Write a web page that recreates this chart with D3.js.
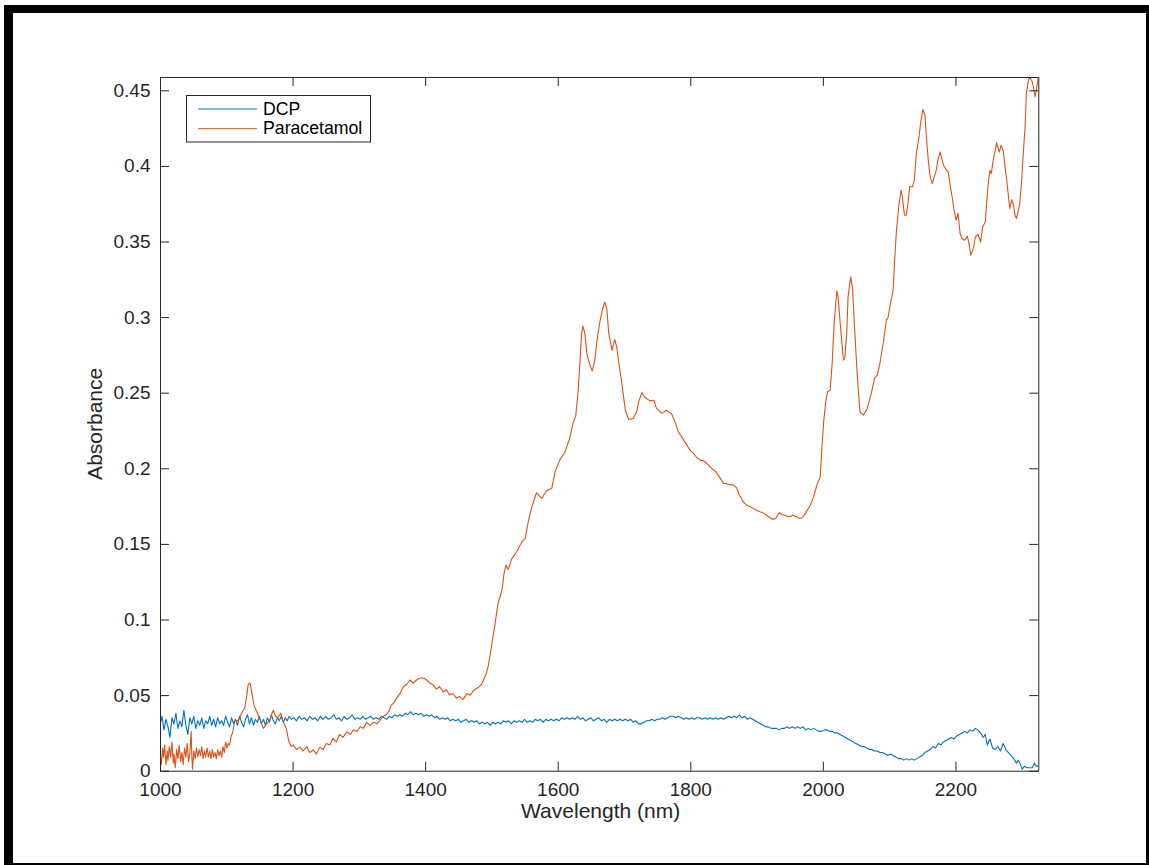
<!DOCTYPE html>
<html>
<head>
<meta charset="utf-8">
<script src="https://cdn.jsdelivr.net/npm/d3@7"></script>
<style>
  html, body { margin: 0; padding: 0; background: #fff; }
  svg { display: block; font-family: "Liberation Sans", Arial, Helvetica, sans-serif; }
</style>
</head>
<body>
<svg id="chart" width="1149" height="865"></svg>
<script>
// NIR absorbance spectra: [wavelength (nm), absorbance]
const dcp = [
  [1000,.030],[1003,.036],[1006,.027],[1009,.034],[1012,.029],[1015,.022],[1018,.035],[1021,.031],[1024,.038],[1027,.028],
  [1030,.033],[1033,.029],[1036,.040],[1039,.030],[1042,.024],[1045,.035],[1048,.031],[1051,.036],[1054,.028],[1057,.033],
  [1060,.030],[1063,.035],[1066,.028],[1069,.033],[1072,.031],[1075,.036],[1078,.030],[1081,.034],[1084,.029],[1087,.035],
  [1090,.031],[1093,.033],[1096,.030],[1099,.036],[1102,.032],[1105,.029],[1108,.035],[1111,.031],[1114,.034],[1117,.030],
  [1120,.036],[1123,.032],[1126,.029],[1129,.034],[1132,.037],[1135,.031],[1138,.035],[1141,.030],[1144,.034],[1147,.032],
  [1150,.036],[1153,.031],[1156,.034],[1159,.030],[1162,.035],[1165,.032],[1168,.037],[1171,.033],[1174,.031],[1177,.035],
  [1180,.033],[1183,.036],[1186,.032],[1189,.035],[1192,.033],[1195,.036],[1198,.034],[1202,.035],[1206,.033],[1210,.036],
  [1214,.034],[1218,.035],[1222,.033],[1226,.036],[1230,.034],[1234,.035],[1238,.033],[1242,.036],[1246,.034],[1250,.036],
  [1254,.034],[1258,.035],[1262,.037],[1266,.034],[1270,.035],[1274,.033],[1278,.036],[1282,.034],[1286,.035],[1290,.037],
  [1294,.034],[1298,.035],[1302,.034],[1306,.036],[1310,.034],[1314,.035],[1318,.036],[1322,.034],[1326,.035],[1330,.034],
  [1334,.036],[1338,.035],[1342,.034],[1346,.036],[1350,.035],[1354,.037],[1358,.036],[1362,.037],[1366,.036],[1370,.038],
  [1374,.037],[1378,.039],[1382,.037],[1386,.038],[1390,.037],[1394,.038],[1398,.036],[1402,.037],[1406,.036],[1410,.037],
  [1414,.035],[1418,.036],[1422,.034],[1426,.035],[1430,.034],[1434,.035],[1438,.033],[1442,.034],[1446,.033],[1450,.034],
  [1454,.032],[1458,.033],[1462,.034],[1466,.032],[1470,.033],[1474,.032],[1478,.033],[1482,.031],[1486,.032],[1490,.031],
  [1494,.032],[1498,.030],[1502,.032],[1506,.031],[1510,.032],[1514,.031],[1518,.033],[1522,.032],[1526,.033],[1530,.031],
  [1534,.033],[1538,.032],[1542,.033],[1546,.032],[1550,.034],[1554,.032],[1558,.033],[1562,.032],[1566,.034],[1570,.033],
  [1574,.034],[1578,.032],[1582,.034],[1586,.033],[1590,.034],[1594,.033],[1598,.034],[1602,.033],[1606,.035],[1610,.034],
  [1614,.035],[1618,.034],[1622,.035],[1626,.034],[1630,.036],[1634,.034],[1638,.035],[1642,.033],[1646,.034],[1650,.035],
  [1654,.033],[1658,.034],[1662,.035],[1666,.033],[1670,.034],[1674,.032],[1678,.034],[1682,.033],[1686,.034],[1690,.033],
  [1694,.034],[1698,.033],[1702,.034],[1706,.033],[1710,.034],[1714,.032],[1718,.033],[1722,.031],[1726,.031],[1730,.032],
  [1734,.033],[1738,.033],[1742,.034],[1746,.033],[1750,.034],[1754,.034],[1758,.035],[1762,.034],[1766,.035],[1770,.036],
  [1774,.036],[1778,.035],[1782,.036],[1786,.035],[1790,.034],[1794,.035],[1798,.034],[1802,.035],[1806,.034],[1810,.035],
  [1814,.035],[1818,.034],[1822,.035],[1826,.034],[1830,.035],[1834,.034],[1838,.035],[1842,.034],[1846,.035],[1850,.034],
  [1854,.035],[1858,.036],[1862,.035],[1866,.036],[1870,.035],[1874,.037],[1878,.035],[1882,.036],[1886,.034],[1890,.035],
  [1894,.034],[1898,.033],[1902,.032],[1906,.031],[1910,.030],[1914,.029],[1918,.029],[1922,.028],[1926,.028],[1930,.028],
  [1934,.027],[1938,.028],[1942,.028],[1946,.029],[1950,.028],[1954,.029],[1958,.028],[1962,.029],[1966,.028],[1970,.029],
  [1974,.027],[1978,.028],[1982,.027],[1986,.028],[1990,.027],[1994,.026],[1998,.026],[2002,.027],[2006,.027],[2010,.026],
  [2014,.026],[2018,.025],[2022,.025],[2026,.024],[2030,.023],[2034,.022],[2038,.021],[2042,.020],[2046,.019],[2050,.018],
  [2054,.017],[2058,.016],[2062,.016],[2066,.015],[2070,.014],[2074,.014],[2078,.013],[2082,.013],[2086,.012],[2090,.012],
  [2094,.011],[2098,.010],[2102,.011],[2106,.010],[2110,.009],[2114,.008],[2118,.008],[2122,.007],[2126,.008],[2130,.007],
  [2134,.008],[2138,.007],[2142,.008],[2146,.009],[2150,.010],[2154,.012],[2158,.013],[2162,.014],[2166,.016],[2170,.015],
  [2174,.018],[2178,.017],[2182,.019],[2186,.020],[2190,.021],[2194,.022],[2198,.021],[2202,.023],[2206,.024],[2210,.025],
  [2214,.026],[2218,.025],[2222,.027],[2226,.026],[2230,.028],[2234,.027],[2238,.025],[2242,.022],[2245,.024],[2248,.017],
  [2252,.021],[2256,.015],[2260,.014],[2264,.016],[2268,.013],[2272,.018],[2276,.014],[2280,.012],[2284,.010],[2288,.008],
  [2292,.005],[2295,.007],[2298,.004],[2301,.001],[2304,.003],[2308,.002],[2312,.002],[2316,.002],[2319,.005],[2322,.003],
  [2325,.003]
];

const paracetamol = [
  [1000,.012],[1002,.004],[1004,.015],[1005,.009],[1007,.017],[1009,.004],[1011,.013],[1012,.007],[1014,.016],[1016,.009],
  [1018,.019],[1020,.005],[1021,.011],[1023,.002],[1025,.014],[1027,.008],[1029,.017],[1031,.006],[1033,.012],[1035,.004],
  [1037,.015],[1039,.009],[1041,.018],[1043,.006],[1045,.012],[1047,.026],[1048,.010],[1049,.001],[1051,.013],[1053,.008],
  [1055,.015],[1057,.009],[1059,.014],[1061,.010],[1063,.016],[1065,.008],[1067,.013],[1069,.009],[1071,.015],[1073,.009],
  [1075,.013],[1077,.008],[1079,.014],[1081,.009],[1083,.012],[1085,.008],[1087,.014],[1089,.010],[1091,.013],[1093,.009],
  [1095,.016],[1097,.012],[1099,.019],[1101,.015],[1103,.018],[1105,.017],[1107,.022],[1110,.026],[1113,.0335],[1118,.033],
  [1122,.037],[1128,.042],[1131,.050],[1133,.057],[1136,.058],[1138,.053],[1142,.043],[1146,.039],[1151,.0335],[1156,.028],
  [1161,.031],[1166,.0335],[1169,.038],[1171,.040],[1174,.036],[1178,.035],[1182,.038],[1186,.0324],[1191,.027],[1194,.020],
  [1198,.016],[1201,.017],[1206,.014],[1211,.0156],[1216,.013],[1221,.016],[1226,.012],[1231,.0137],[1236,.011],[1241,.0156],
  [1246,.014],[1251,.018],[1256,.017],[1261,.0214],[1266,.019],[1271,.024],[1276,.022],[1282,.0258],[1287,.024],[1292,.027],
  [1297,.026],[1302,.029],[1307,.028],[1312,.032],[1317,.030],[1322,.032],[1327,.031],[1332,.0335],[1337,.036],[1341,.037],
  [1345,.039],[1349,.0434],[1353,.045],[1357,.048],[1362,.051],[1367,.0555],[1372,.057],[1377,.060],[1382,.058],[1387,.060],
  [1391,.061],[1395,.0615],[1399,.061],[1402,.060],[1407,.058],[1412,.0567],[1417,.054],[1422,.0555],[1427,.052],[1432,.0535],
  [1437,.050],[1442,.051],[1447,.048],[1452,.049],[1457,.047],[1463,.051],[1468,.050],[1473,.053],[1480,.055],[1485,.057],
  [1488,.060],[1492,.064],[1495,.0688],[1500,.082],[1504,.093],[1510,.1107],[1516,.1195],[1519,.1305],[1522,.136],[1525,.133],
  [1531,.1404],[1538,.1448],[1546,.1514],[1551,.1536],[1556,.1657],[1561,.1745],[1568,.1838],[1572,.182],[1576,.180],[1583,.1851],
  [1591,.1867],[1596,.1977],[1603,.2054],[1611,.2109],[1618,.2197],[1623,.2297],[1627,.234],[1631,.2517],[1634,.2737],[1636,.2891],
  [1638,.294],[1641,.2891],[1644,.2759],[1647,.2704],[1652,.2644],[1656,.2715],[1660,.2869],[1664,.2979],[1668,.3057],[1671,.310],
  [1674,.3057],[1677,.2891],[1682,.278],[1686,.2852],[1689,.2803],[1693,.2671],[1696,.2583],[1699,.2484],[1702,.2384],[1707,.2323],
  [1714,.233],[1719,.2373],[1722,.2439],[1727,.2501],[1731,.2472],[1739,.2446],[1745,.245],[1749,.2396],[1757,.2363],[1764,.2384],
  [1772,.2358],[1777,.2307],[1782,.2241],[1787,.2208],[1795,.2153],[1800,.2118],[1805,.2098],[1810,.2070],[1815,.2054],[1820,.2050],
  [1825,.2032],[1830,.2010],[1835,.1988],[1838,.1980],[1842,.1955],[1846,.1930],[1850,.190],[1855,.1898],[1860,.1889],[1863,.1893],
  [1867,.1882],[1870,.1870],[1873,.1834],[1877,.1800],[1880,.1778],[1885,.1756],[1890,.1748],[1895,.1735],[1900,.1722],[1905,.1712],
  [1910,.1705],[1915,.169],[1920,.1675],[1925,.1662],[1929,.1670],[1934,.1706],[1938,.1695],[1943,.169],[1947,.1682],[1950,.1679],
  [1955,.1690],[1960,.1679],[1965,.1668],[1969,.1673],[1972,.1690],[1975,.1712],[1981,.1756],[1986,.1811],[1991,.1889],[1996,.1944],
  [1998,.2098],[2001,.2297],[2004,.2429],[2007,.2506],[2011,.2517],[2014,.2693],[2017,.2958],[2021,.3173],[2023,.3134],[2027,.2913],
  [2031,.2715],[2033,.2726],[2036,.2891],[2038,.3134],[2042,.3266],[2045,.3178],[2048,.2913],[2052,.2605],[2056,.2373],[2061,.2351],
  [2067,.2396],[2073,.2495],[2078,.2594],[2082,.2616],[2086,.2693],[2091,.2825],[2096,.2984],[2098,.2991],[2102,.309],[2106,.3178],
  [2108,.3354],[2111,.3575],[2115,.3751],[2118,.3839],[2120,.3795],[2123,.3674],[2126,.3674],[2129,.3773],[2131,.3865],[2135,.3861],
  [2138,.3905],[2141,.4081],[2145,.4191],[2148,.4302],[2151,.4374],[2154,.4335],[2156,.4202],[2159,.4037],[2162,.3927],[2165,.3883],
  [2168,.3927],[2171,.3971],[2174,.4048],[2177,.4092],[2180,.4037],[2183,.3993],[2187,.3971],[2189,.396],[2192,.3872],[2195,.3795],
  [2198,.3707],[2201,.3641],[2204,.3685],[2207,.3553],[2210,.352],[2214,.3508],[2218,.3535],[2221,.3475],[2223,.3409],[2227,.3453],
  [2230,.353],[2234,.3548],[2238,.3497],[2241,.3596],[2245,.3629],[2247,.3751],[2250,.3905],[2252,.3971],[2254,.3949],[2257,.4037],
  [2260,.4103],[2262,.4154],[2266,.4092],[2269,.4136],[2272,.4103],[2276,.3949],[2277,.3927],[2280,.3795],[2282,.3718],[2285,.3777],
  [2287,.3751],[2290,.3674],[2292,.3652],[2295,.3707],[2297,.3751],[2300,.3905],[2302,.4059],[2305,.4257],[2307,.4478],[2310,.4566],
  [2312,.4588],[2316,.4555],[2318,.4511],[2320,.4456],[2322,.45],[2325,.4588]
];

const seriesNames = ["DCP", "Paracetamol"];
const seriesColors = ["#0072BD", "#D95319"];
const xTicks = [1000, 1200, 1400, 1600, 1800, 2000, 2200];
const yTicks = [0, 0.05, 0.1, 0.15, 0.2, 0.25, 0.3, 0.35, 0.4, 0.45];
const yTickLabels = ["0", "0.05", "0.1", "0.15", "0.2", "0.25", "0.3", "0.35", "0.4", "0.45"];
const xLimits = [1000, 2325];

const svg = d3.select("#chart");
const W = 1149, H = 865;
const plot = { left: 160, top: 77, right: 1038.3, bottom: 770.7 };
const axisColor = "#262626";
const tickLen = 9;

// white page with black frame
svg.append("rect").attr("width", W).attr("height", H).attr("fill", "#fff");
svg.append("path")
  .attr("fill-rule", "evenodd")
  .attr("fill", "#000")
  .attr("d", `M4,5H1149V865H4Z M13,13V863H1146V13Z`);

const x = d3.scaleLinear().domain(xLimits).range([plot.left, plot.right]);
const y = d3.scaleLinear()
  .domain([0, d3.max(paracetamol, d => d[1])])
  .range([plot.bottom, plot.top]);

// clip for data lines
svg.append("clipPath").attr("id", "plotClip")
  .append("rect")
  .attr("x", plot.left).attr("y", plot.top)
  .attr("width", plot.right - plot.left).attr("height", plot.bottom - plot.top);

const line = d3.line().x(d => x(d[0])).y(d => y(d[1]));
const gLines = svg.append("g").attr("clip-path", "url(#plotClip)");
[dcp, paracetamol].forEach((s, i) => {
  gLines.append("path")
    .datum(s)
    .attr("fill", "none")
    .attr("stroke", seriesColors[i])
    .attr("stroke-width", 1.1)
    .attr("stroke-linejoin", "round")
    .attr("d", line);
});

// axes: ticks point inward on all four sides
function styleAxis(g) {
  g.selectAll("path.domain").attr("stroke", axisColor).attr("stroke-width", 1);
  g.selectAll(".tick line").attr("stroke", axisColor).attr("stroke-width", 1);
  g.selectAll(".tick text")
    .attr("fill", axisColor)
    .style("font-size", "19px")
    .style("font-family", '"Liberation Sans", Arial, Helvetica, sans-serif');
}

svg.append("g")
  .attr("transform", `translate(0,${plot.bottom})`)
  .call(d3.axisBottom(x).tickValues(xTicks).tickFormat(d3.format("d"))
    .tickSizeInner(-tickLen).tickSizeOuter(0).tickPadding(11.5))
  .call(styleAxis);

svg.append("g")
  .attr("transform", `translate(0,${plot.top})`)
  .call(d3.axisTop(x).tickValues(xTicks).tickFormat("")
    .tickSizeInner(-tickLen).tickSizeOuter(0))
  .call(styleAxis);

svg.append("g")
  .attr("transform", `translate(${plot.left},0)`)
  .call(d3.axisLeft(y).tickValues(yTicks).tickFormat((d, i) => yTickLabels[i])
    .tickSizeInner(-tickLen).tickSizeOuter(0).tickPadding(9.5))
  .call(styleAxis);

svg.append("g")
  .attr("transform", `translate(${plot.right},0)`)
  .call(d3.axisRight(y).tickValues(yTicks).tickFormat("")
    .tickSizeInner(-tickLen).tickSizeOuter(0))
  .call(styleAxis);

// axis titles
svg.append("text")
  .attr("x", (plot.left + plot.right) / 2 + 1.5)
  .attr("y", 818)
  .attr("text-anchor", "middle")
  .attr("fill", axisColor)
  .style("font-size", "21px")
  .text("Wavelength (nm)");

svg.append("text")
  .attr("transform", `translate(102,${(plot.top + plot.bottom) / 2}) rotate(-90)`)
  .attr("text-anchor", "middle")
  .attr("fill", axisColor)
  .style("font-size", "21px")
  .text("Absorbance");

// legend
const legend = svg.append("g");
legend.append("rect")
  .attr("x", 186.5).attr("y", 95.5)
  .attr("width", 184).attr("height", 46.5)
  .attr("fill", "#fff")
  .attr("stroke", axisColor)
  .attr("stroke-width", 1);
seriesNames.forEach((name, i) => {
  const ly = 109 + i * 19.7;
  legend.append("line")
    .attr("x1", 198).attr("x2", 257)
    .attr("y1", ly).attr("y2", ly)
    .attr("stroke", seriesColors[i])
    .attr("stroke-width", 1);
  legend.append("text")
    .attr("x", 263).attr("y", ly + 5.5)
    .attr("fill", "#000")
    .style("font-size", "17.7px")
    .text(name);
});
</script>
</body>
</html>
